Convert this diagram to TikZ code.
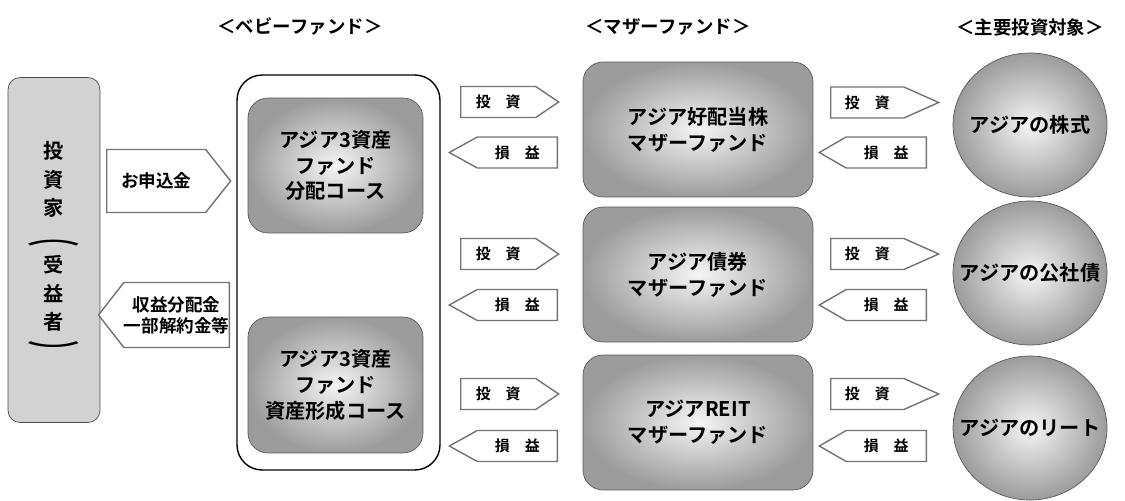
\documentclass[tikz,border=0pt]{standalone}
\usepackage{fontspec}
\setmainfont{Noto Sans CJK JP}[BoldFont={Noto Sans CJK JP Bold}]
\usetikzlibrary{shapes.symbols,shapes.geometric}
\begin{document}
\begin{tikzpicture}[x=0.02cm, y=-0.02cm, every node/.style={inner sep=0pt, font=\bfseries},
  box/.style={draw=black!65, rounded corners=0.4cm, inner color=white!92!gray, outer color=gray!78,
    align=center, font=\bfseries\fontsize{11.5}{14.7}\selectfont},
  pot/.style={draw=black!65, ellipse, inner color=white!92!gray, outer color=gray!78,
    minimum width=3.08cm, minimum height=2.88cm, font=\bfseries\fontsize{11.5}{14}\selectfont},
  go/.style={draw=black!55, thick, fill=white, signal, signal to=east, minimum height=0.62cm,
    font=\bfseries\fontsize{8.5}{10}\selectfont},
  back/.style={go, signal to=west},
  head/.style={font=\bfseries\fontsize{10.5}{13}\selectfont}]
  \useasboundingbox (0,0) rectangle (1125,500);
  % headings
  \node [head] (h1) at (300,27) {＜ベビーファンド＞};
  \node [head] (h2) at (668,27) {＜マザーファンド＞};
  \node [head] (h3) at (1030,27) {＜主要投資対象＞};
  % investor
  \node [draw=black!70, fill=gray!35, rounded corners=0.24cm, minimum width=1.84cm, minimum height=6.9cm,
    align=center, font=\bfseries\fontsize{11.5}{16.2}\selectfont] (inv) at (54,250)
    {投\\資\\家\\\scalebox{2.6}[1]{︵}\\受\\益\\者\\\scalebox{2.6}[1]{︶}};
  \node [go, signal pointer angle=103, minimum width=2.48cm, minimum height=1.26cm, anchor=west,
    font=\bfseries\fontsize{10}{12}\selectfont] (apply) at (106,181) {お申込金};
  \node [back, signal pointer angle=104, minimum width=2.48cm, minimum height=1.3cm, anchor=east, align=center,
    font=\bfseries\fontsize{10}{12}\selectfont] (pay) at (230,315) {収益分配金\\一部解約金等};
  % baby funds
  \node [draw, thick, fill=white, rounded corners=0.5cm, minimum width=4.06cm, minimum height=7.9cm] (baby) at (338.5,272.5) {};
  \node [box, minimum width=3.5cm, minimum height=2.7cm] (b1) at (335.5,165.5) {アジア3資産\\ファンド\\分配コース};
  \node [box, minimum width=3.5cm, minimum height=2.72cm] (b2) at (335.5,385) {アジア3資産\\ファンド\\資産形成コース};
  % mother funds
  \node [box, minimum width=4.6cm, minimum height=2.7cm] (m1) at (698,129.5) {アジア好配当株\\マザーファンド};
  \node [box, minimum width=4.6cm, minimum height=2.7cm] (m2) at (698,274.5) {アジア債券\\マザーファンド};
  \node [box, minimum width=4.6cm, minimum height=2.7cm] (m3) at (698,422.5) {アジアREIT\\マザーファンド};
  % assets
  \node [pot] (a1) at (1030,125) {\makebox[0pt]{アジアの株式}};
  \node [pot] (a2) at (1030,273) {\makebox[0pt]{アジアの公社債}};
  \node [pot] (a3) at (1030,428) {\makebox[0pt]{アジアのリート}};
  % flows
  \node [go, signal pointer angle=68, minimum width=1.96cm, anchor=west] (i1) at (460,102) {投　資};
  \node [go, signal pointer angle=68, minimum width=1.96cm, anchor=west] (i2) at (460,254) {投　資};
  \node [go, signal pointer angle=68, minimum width=1.96cm, anchor=west] (i3) at (460,394) {投　資};
  \node [back, signal pointer angle=58, minimum width=2.16cm, anchor=east] (r1) at (558,152.5) {損　益};
  \node [back, signal pointer angle=58, minimum width=2.16cm, anchor=east] (r2) at (558,305) {損　益};
  \node [back, signal pointer angle=58, minimum width=2.16cm, anchor=east] (r3) at (558,446) {損　益};
  \node [go, signal pointer angle=48, minimum width=2.16cm, anchor=west] (j1) at (830,102.5) {投　資};
  \node [go, signal pointer angle=48, minimum width=2.16cm, anchor=west] (j2) at (830,254) {投　資};
  \node [go, signal pointer angle=48, minimum width=2.16cm, anchor=west] (j3) at (830,394) {投　資};
  \node [back, signal pointer angle=60, minimum width=2.14cm, anchor=east] (s1) at (927,152.5) {損　益};
  \node [back, signal pointer angle=60, minimum width=2.14cm, anchor=east] (s2) at (927,305) {損　益};
  \node [back, signal pointer angle=60, minimum width=2.14cm, anchor=east] (s3) at (927,446) {損　益};
\end{tikzpicture}
\end{document}
